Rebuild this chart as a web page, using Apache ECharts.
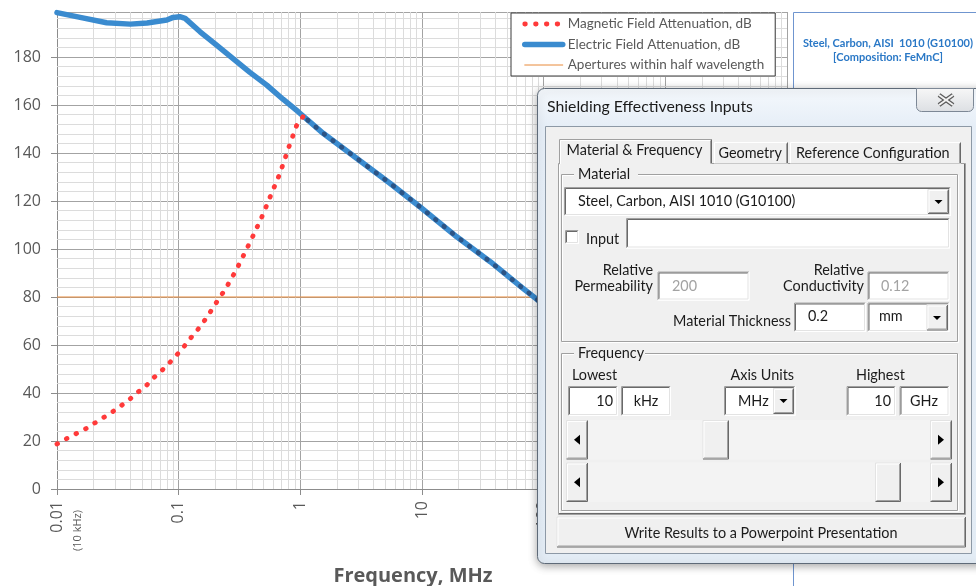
<!DOCTYPE html>
<html><head><meta charset="utf-8">
<script src="https://cdn.jsdelivr.net/npm/echarts@6/dist/echarts.min.js"></script>
<style>html,body{margin:0;padding:0;background:#fff}#c{width:976px;height:586px}</style>
</head><body><div id="c"></div>
<script>
// ---------- data ----------
const seriesNames = ['Magnetic Field Attenuation, dB', 'Electric Field Attenuation, dB', 'Apertures within half wavelength'];
const magFreq = [0.01,0.012,0.0143,0.0171,0.0203,0.024,0.0285,0.0334,0.039,0.0454,0.0532,0.0611,0.0711,0.0822,0.0933,0.107,0.121,0.137,0.155,0.174,0.193,0.216,0.242,0.266,0.294,0.321,0.351,0.383,0.418,0.454,0.493,0.532,0.573,0.618,0.667,0.714,0.762,0.811,0.869,0.931,1.057,1.54,2.9,5.45,9.6,19.3,36.4,67.6,85,110];
const magDb   = [18.75,21,23,25,27.4,29.7,32.1,34.6,37.1,40.1,42.6,46,48.9,52,55.1,58.3,62,65.1,68.6,72.2,75.8,79.6,83.2,87,90.8,94.6,98.6,102.5,106.5,110.5,114.4,118.5,122.5,126.5,130.5,134.7,138.9,143,147.2,151.4,155.3,148.2,137.8,127.4,117.6,105.1,94.7,83.6,79.6,75.1];
const magJoinFreq = 1.057; // above this the magnetic curve lies on the electric curve
const eleFreq = [0.01,0.0155,0.0256,0.04,0.055,0.08,0.09,0.102,0.113,0.15,0.205,0.28,0.385,0.53,0.72,0.96,1.54,2.9,5.45,9.6,19.3,36.4,67.6,85,110];
const eleDb   = [198.5,196.5,194.3,193.7,194.2,195.4,196.5,196.8,196.1,190.5,184.9,179.3,173.6,168.3,162.4,157.2,148.2,137.8,127.4,117.6,105.1,94.7,83.6,79.6,75.1];
const aperFreq = [0.01, 10000];
const aperDb   = [80, 80];
const xTickLabels = ['0.01','0.1','1','10','100','1000','10000'];
const yTickLabels = ['0','20','40','60','80','100','120','140','160','180'];
const xTitle = 'Frequency, MHz';
const xFirstNote = '(10 kHz)';
const materialTitle = ['Steel, Carbon, AISI  1010 (G10100)', '[Composition: FeMnC]'];

// minor gridline positions (log decades 2..9, and every 4 dB)
const xMinor = [];
[0.01,0.1,1,10,100,1000].forEach(d => { for (let k = 2; k <= 9; k++) xMinor.push(+(d*k).toPrecision(6)); });
const yMinor = [];
for (let v = 4; v < 198; v += 4) if (v % 20) yMinor.push(v);

// ---------- graphic helpers (dialog overlay) ----------
const FS = 14.4;
const G = [];
let zc = 100;
function add(el){ el.z = zc++; el.silent = true; G.push(el); }
function rect(x,y,w,h,fill,stroke,r,extra){ add({type:'rect', shape:{x,y,width:w,height:h,r:r||0}, style:Object.assign({fill:fill||'none', stroke:stroke||'none', lineWidth:1}, extra||{})}); }
function line(x1,y1,x2,y2,c,w){ add({type:'line', shape:{x1,y1,x2,y2}, style:{stroke:c, lineWidth:w||1}}); }
function poly(pts,c){ add({type:'polygon', shape:{points:pts}, style:{fill:c}}); }
function text(x,y,s,o){ o=o||{}; add({type:'text', style:{x,y,text:s, fill:o.c||'#1b1b1b', font:(o.b?'bold ':'')+(o.s||FS)+'px '+(o.f||'Lato'), align:o.a||'left', textAlign:o.a||'left', verticalAlign:'middle', textVerticalAlign:'middle'}}); }
function sunken(x1,y1,x2,y2,fill){
  rect(x1,y1,x2-x1,y2-y1,fill||'#fff');
  line(x1+.5,y1+.5,x2-.5,y1+.5,'#a0a0a0'); line(x1+.5,y1+.5,x1+.5,y2-.5,'#a0a0a0');
  line(x1+1.5,y1+1.5,x2-1.5,y1+1.5,'#696969'); line(x1+1.5,y1+1.5,x1+1.5,y2-1.5,'#696969');
  line(x1+.5,y2-.5,x2-.5,y2-.5,'#ffffff'); line(x2-.5,y1+.5,x2-.5,y2-.5,'#ffffff');
  line(x1+1.5,y2-1.5,x2-1.5,y2-1.5,'#e3e3e3'); line(x2-1.5,y1+1.5,x2-1.5,y2-1.5,'#e3e3e3');
}
function raised(x1,y1,x2,y2,fill){
  rect(x1,y1,x2-x1,y2-y1,fill||'#f0f0f0');
  line(x1+.5,y1+.5,x2-.5,y1+.5,'#e3e3e3'); line(x1+.5,y1+.5,x1+.5,y2-.5,'#e3e3e3');
  line(x1+1.5,y1+1.5,x2-1.5,y1+1.5,'#ffffff'); line(x1+1.5,y1+1.5,x1+1.5,y2-1.5,'#ffffff');
  line(x1+.5,y2-.5,x2-.5,y2-.5,'#696969'); line(x2-.5,y1+.5,x2-.5,y2-.5,'#696969');
  line(x1+1.5,y2-1.5,x2-1.5,y2-1.5,'#a0a0a0'); line(x2-1.5,y1+1.5,x2-1.5,y2-1.5,'#a0a0a0');
}
function downArrow(cx,cy){ poly([[cx-4,cy-2],[cx+4,cy-2],[cx,cy+2]],'#000'); }
function group(x1,y1,x2,y2,label,lx){
  rect(x1+1.5,y1+1.5,x2-x1-1,y2-y1-1,'none','#ffffff');
  rect(x1+.5,y1+.5,x2-x1-1,y2-y1-1,'none','#a0a0a0');
  rect(lx-4,y1-7,label.length*7+8,14,'#f0f0f0');
  text(lx,y1,label);
}
function scrollbar(x1,y1,x2,y2,thumbX1,thumbX2){
  rect(x1,y1,x2-x1,y2-y1,'#f3f3f3');
  raised(x1,y1,x1+22,y2); const cy=(y1+y2)/2;
  poly([[x1+8,cy],[x1+14,cy-5],[x1+14,cy+5]],'#000');
  raised(thumbX1,y1,thumbX2,y2);
  raised(x2-22,y1,x2,y2);
  poly([[x2-8,cy],[x2-14,cy-5],[x2-14,cy+5]],'#000');
}

// right material panel
rect(793.5,12.5,220,600,'#ffffff','#6f95cf');
text(888,43.5,materialTitle[0],{b:true,s:11,a:'center',c:'#2a78c6'});
text(888,57.5,materialTitle[1],{b:true,s:11,a:'center',c:'#2a78c6'});

// dialog frame
rect(537.5,88.5,470,475,{type:'linear',x:0,y:0,x2:0,y2:1,colorStops:[{offset:0,color:'#f5f9fd'},{offset:0.08,color:'#e6eef7'},{offset:1,color:'#e3ecf5'}]},'#5e6a78',7,{shadowBlur:8,shadowColor:'rgba(0,0,0,0.35)',shadowOffsetY:2});
rect(916.5,88.5,57,23,{type:'linear',x:0,y:0,x2:0,y2:1,colorStops:[{offset:0,color:'#f7f7f7'},{offset:1,color:'#dcdfe3'}]},'#7d8896',[0,0,5,5]);
line(939,95,953,105,'#5a5a5a',4.5); line(953,95,939,105,'#5a5a5a',4.5);
line(939,95,953,105,'#f2f2f2',2); line(953,95,939,105,'#f2f2f2',2);
text(547,106.5,'Shielding Effectiveness Inputs',{s:15.8});
rect(545.5,126.5,426,427,'#f0f0f0','#8d99a6');

// tab control
rect(558.5,163.5,407,351,'#f0f0f0','#a0a0a0');
line(559.5,164.5,559.5,513.5,'#ffffff');
line(964.5,164,964.5,514,'#696969'); line(559,513.5,965,513.5,'#696969');
rect(559,139,153,26,'#f0f0f0');
line(559.5,139.5,559.5,164,'#a0a0a0'); line(560.5,140.5,560.5,164,'#ffffff');
line(559.5,139.5,711.5,139.5,'#a0a0a0'); line(560.5,140.5,710.5,140.5,'#ffffff');
line(711.5,139.5,711.5,163.5,'#696969'); line(710.5,140.5,710.5,163.5,'#a0a0a0');
text(566.5,150.5,'Material & Frequency');
[[714,788,'Geometry',718.5],[790,961,'Reference Configuration',796]].forEach(t => {
  rect(t[0],142,t[1]-t[0],21.5,'#f0f0f0');
  line(t[0]+.5,142.5,t[0]+.5,163,'#ffffff');
  line(t[0]+.5,142.5,t[1]-.5,142.5,'#ffffff');
  line(t[1]-.5,142.5,t[1]-.5,163,'#696969'); line(t[1]-1.5,143.5,t[1]-1.5,163,'#a0a0a0');
  text(t[3],153,t[2]);
});

// Material group
group(561,174,958,342,'Material',578);
sunken(564,187,951,216);
text(578,201.7,'Steel, Carbon, AISI 1010 (G10100)');
raised(927.5,189,949,214); downArrow(938.5,202);
sunken(565,230,579,244);
text(586,239.3,'Input');
sunken(626,218,950,248.5);
text(653,270,'Relative',{a:'right'}); text(653,286,'Permeability',{a:'right'});
sunken(657.5,271.5,749.5,300.5); text(672,286,'200',{c:'#a3a3a3'});
text(864,270,'Relative',{a:'right'}); text(864,286,'Conductivity',{a:'right'});
sunken(867.5,271.5,949.5,300.5); text(881,286,'0.12',{c:'#a3a3a3'});
text(791,321.7,'Material Thickness',{a:'right'});
sunken(794,302.5,866,332); text(808,316.7,'0.2');
sunken(867.5,302.5,949.5,332); text(879,316.7,'mm');
raised(926.5,304.5,948,330.5); downArrow(937,318);

// Frequency group
group(561,353,958,511,'Frequency',578);
text(572,375,'Lowest'); text(730.5,375,'Axis Units'); text(856,375,'Highest');
sunken(568,386,618,416); text(613,401,'10',{a:'right'});
sunken(621,386,671,416); text(646,401,'kHz',{a:'center'});
sunken(724,386,795.5,416); text(738,401,'MHz');
raised(773,388,794,414); downArrow(783.5,401);
sunken(846.5,386,896,416); text(891,401,'10',{a:'right'});
sunken(899.5,386,949.5,416); text(924,401,'GHz',{a:'center'});
scrollbar(566,420,952,459.5,702.5,729);
scrollbar(566,462.5,952,502,875,901);

raised(556.5,516.5,966,547.5);
text(761,533.5,'Write Results to a Powerpoint Presentation',{a:'center'});

// "(10 kHz)" note under first x tick label
G.push({type:'text', z:50, silent:true, x:78, y:510, rotation:Math.PI/2,
  style:{x:0,y:0,text:xFirstNote, fill:'#595959', font:'11px "Open Sans"', align:'right', textAlign:'right', verticalAlign:'middle', textVerticalAlign:'middle'}});

// ---------- chart ----------
const joinIdx = magFreq.indexOf(magJoinFreq);
const magPairs = magFreq.map((f,i)=>[f, magDb[i]]);
const dotStyle = {width:4.8, type:[0.6,10.2], cap:'round', join:'miter'};
const chart = echarts.init(document.getElementById('c'), null, {renderer:'canvas'});
const axisCol = '#8c8c8c';
chart.setOption({
  animation:false,
  backgroundColor:'#ffffff',
  grid:{left:57, top:12, width:730, height:477, containLabel:false, outerBoundsMode:'none'},
  legend:{
    show:true, orient:'vertical', left:511, top:13, z:10,
    backgroundColor:'#ffffff', borderColor:'#3a3a3a', borderWidth:1,
    padding:[4,11,4,11], itemWidth:38, itemHeight:14, itemGap:6.5,
    textStyle:{color:'#595959', fontSize:13.5, fontFamily:'Lato'},
    itemStyle:{opacity:0, color:'rgba(0,0,0,0)', borderWidth:0},
    lineStyle:{width:'inherit', type:'inherit', cap:'round'},
    data:seriesNames.map(n => ({name:n}))
  },
  xAxis:{
    type:'log', logBase:10, min:0.01, max:10000, splitNumber:6,
    axisLine:{show:true, lineStyle:{color:axisCol}},
    axisTick:{show:true, length:6, lineStyle:{color:axisCol}},
    splitLine:{show:true, lineStyle:{color:'#a3a3a3', width:1}},
    axisLabel:{rotate:90, margin:12, color:'#595959', fontSize:16, fontFamily:'Open Sans',
      formatter:(v,i)=> xTickLabels[i] !== undefined ? xTickLabels[i] : ''},
    name:xTitle, nameLocation:'middle', nameGap:77,
    nameTextStyle:{color:'#595959', fontSize:20, fontWeight:'bold', fontFamily:'Open Sans', padding:[0,18,0,0]}
  },
  yAxis:{
    type:'value', min:0, max:198.75, interval:20,
    axisLine:{show:true, lineStyle:{color:axisCol}},
    axisTick:{show:true, length:6, lineStyle:{color:axisCol}},
    splitLine:{show:true, lineStyle:{color:'#a3a3a3', width:1}},
    axisLabel:{margin:16, color:'#595959', fontSize:16, fontFamily:'Open Sans', showMaxLabel:false,
      formatter:(v,i)=> yTickLabels[i] !== undefined ? yTickLabels[i] : ''}
  },
  series:[
    {name:seriesNames[2], type:'line', symbol:'none', z:2,
     data:aperFreq.map((f,i)=>[f, aperDb[i]]),
     lineStyle:{color:'#e88a3a', width:1},
     markLine:{silent:true, symbol:'none', animation:false, z:1, label:{show:false},
       lineStyle:{color:'#dcdcdc', width:1, type:'solid'},
       emphasis:{disabled:true},
       data:xMinor.map(v=>({xAxis:v})).concat(yMinor.map(v=>({yAxis:v})))}},
    {name:seriesNames[1], type:'line', symbol:'none', z:3, smooth:false,
     data:eleFreq.map((f,i)=>[f, eleDb[i]]),
     lineStyle:{color:'#3a8bcf', width:5.5, cap:'round', join:'round'}},
    {name:seriesNames[0], type:'line', symbol:'none', z:4, smooth:false,
     data:magPairs.slice(0, joinIdx+1),
     lineStyle:Object.assign({color:'#ff3a3a'}, dotStyle)},
    {name:seriesNames[0], type:'line', symbol:'none', z:4, smooth:false,
     data:magPairs.slice(joinIdx),
     lineStyle:Object.assign({color:'#2c5485', dashOffset:5}, dotStyle)}
  ],
  graphic:G
});
</script></body></html>
